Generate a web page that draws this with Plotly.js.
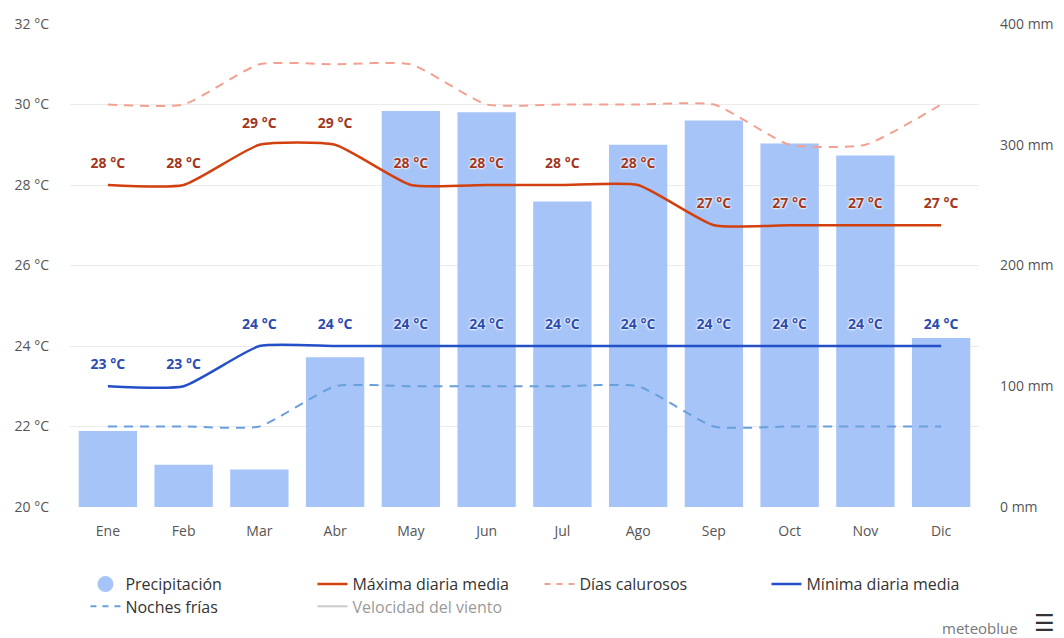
<!DOCTYPE html>
<html>
<head>
<meta charset="utf-8">
<script src="https://cdn.plot.ly/plotly-3.0.1.min.js"></script>
<style>
html,body{margin:0;padding:0;background:#fff;}
#chart{width:1064px;height:638px;}
</style>
</head>
<body>
<div id="chart"></div>
<script>
const months = ["Ene","Feb","Mar","Abr","May","Jun","Jul","Ago","Sep","Oct","Nov","Dic"];
const precipitation = [63, 35, 31, 124, 328, 327, 253, 300, 320, 301, 291, 140];
const maxDaily = [28, 28, 29, 29, 28, 28, 28, 28, 27, 27, 27, 27];
const minDaily = [23, 23, 24, 24, 24, 24, 24, 24, 24, 24, 24, 24];
const hotDays = [30, 30, 31, 31, 31, 30, 30, 30, 30, 29, 29, 30];
const coldNights = [22, 22, 22, 23, 23, 23, 23, 23, 22, 22, 22, 22];
const tempTicks = [20, 22, 24, 26, 28, 30, 32];
const precTicks = [0, 100, 200, 300, 400];

const FONT = "Open Sans, Liberation Sans, sans-serif";
const fmt = v => v + " °C";
const SMOOTH = 0.5;
const HALO = "0px 0px 2px #fff, 0px 0px 2px #fff, 0px 0px 3px #fff";

const traces = [
  {
    type: "bar", x: months, y: precipitation, yaxis: "y",
    marker: {color: "#a6c4f7"}, width: 0.77, showlegend: false,
    name: "Precipitación", hoverinfo: "skip"
  },
  {
    type: "scatter", mode: "lines", x: months, y: coldNights, yaxis: "y2",
    line: {color: "#6a9fdc", width: 2, dash: "9px,7px", shape: "spline", smoothing: SMOOTH},
    showlegend: false, name: "Noches frías"
  },
  {
    type: "scatter", mode: "lines", x: months, y: hotDays, yaxis: "y2",
    line: {color: "#f4a091", width: 2, dash: "9px,7px", shape: "spline", smoothing: SMOOTH},
    showlegend: false, name: "Días calurosos"
  },
  {
    type: "scatter", mode: "lines+markers+text", x: months, y: maxDaily, yaxis: "y2",
    text: maxDaily.map(fmt), textposition: "top center", cliponaxis: false,
    marker: {size: 20, opacity: 0},
    textfont: {family: FONT, size: 14, color: "#a2371d", weight: 700, shadow: HALO},
    line: {color: "#d2400f", width: 2.5, shape: "spline", smoothing: SMOOTH},
    showlegend: false, name: "Máxima diaria media"
  },
  {
    type: "scatter", mode: "lines+markers+text", x: months, y: minDaily, yaxis: "y2",
    text: minDaily.map(fmt), textposition: "top center", cliponaxis: false,
    marker: {size: 20, opacity: 0},
    textfont: {family: FONT, size: 14, color: "#2b4cb0", weight: 700, shadow: HALO},
    line: {color: "#2350c6", width: 2.5, shape: "spline", smoothing: SMOOTH},
    showlegend: false, name: "Mínima diaria media"
  },
  // legend entries
  {type: "scatter", mode: "markers", x: [null], y: [null], name: "Precipitación", legend: "legend",
   marker: {symbol: "circle", size: 16, color: "#a6c4f7"}},
  {type: "scatter", mode: "lines", x: [null], y: [null], name: "Máxima diaria media", legend: "legend",
   line: {color: "#d2400f", width: 2.5}},
  {type: "scatter", mode: "lines", x: [null], y: [null], name: "Días calurosos", legend: "legend",
   line: {color: "#f4a091", width: 2, dash: "6px,6px"}},
  {type: "scatter", mode: "lines", x: [null], y: [null], name: "Mínima diaria media", legend: "legend",
   line: {color: "#2350c6", width: 2.5}},
  {type: "scatter", mode: "lines", x: [null], y: [null], name: "Noches frías", legend: "legend2",
   line: {color: "#6a9fdc", width: 2, dash: "6px,6px"}},
  {type: "scatter", mode: "lines", x: [null], y: [null], name: "Velocidad del viento", legend: "legend2",
   line: {color: "#999", width: 2}, visible: "legendonly"}
];

const legendBase = {
  orientation: "h", x: 0.017, xanchor: "left", yanchor: "top",
  font: {size: 16, color: "#333"}, entrywidth: 182, entrywidthmode: "pixels",
  tracegroupgap: 0, itemclick: false, itemdoubleclick: false, traceorder: "normal",
  bgcolor: "rgba(0,0,0,0)"
};

const layout = {
  width: 1064, height: 638,
  margin: {l: 70, r: 85, t: 24, b: 131, autoexpand: false},
  paper_bgcolor: "#fff", plot_bgcolor: "#fff",
  font: {family: FONT, color: "#555", size: 13},
  xaxis: {
    type: "category", range: [-0.5, 11.5], showgrid: false, zeroline: false, showline: false,
    automargin: false, ticks: "", tickfont: {size: 14, color: "#555"}, ticklabelstandoff: 14
  },
  yaxis: {
    range: [0, 400], side: "right", automargin: false,
    tickvals: precTicks, ticktext: precTicks.map(v => v + " mm"),
    showgrid: false, zeroline: false, tickfont: {size: 14, color: "#555"},
    ticklabelstandoff: 20
  },
  yaxis2: {
    range: [20, 32], overlaying: "y", side: "left", automargin: false,
    tickvals: tempTicks, ticktext: tempTicks.map(fmt),
    showgrid: true, gridcolor: "#ebebeb", gridwidth: 1, zeroline: false,
    tickfont: {size: 14, color: "#555"}, ticklabelstandoff: 20
  },
  showlegend: true,
  legend: Object.assign({}, legendBase, {y: -0.1246}),
  legend2: Object.assign({}, legendBase, {y: -0.1706}),
  annotations: [
    {xref: "paper", yref: "paper", x: 1.045, y: -0.2505, xanchor: "right", yanchor: "middle",
     text: "meteoblue", showarrow: false, font: {size: 15, color: "#777"}},
    {xref: "paper", yref: "paper", x: 1.0726, y: -0.240, xanchor: "center", yanchor: "middle",
     text: "☰", showarrow: false, font: {family: "DejaVu Sans", size: 23, color: "#333", weight: 700}}
  ]
};

Plotly.newPlot("chart", traces, layout, {displayModeBar: false, staticPlot: true});
</script>
</body>
</html>
